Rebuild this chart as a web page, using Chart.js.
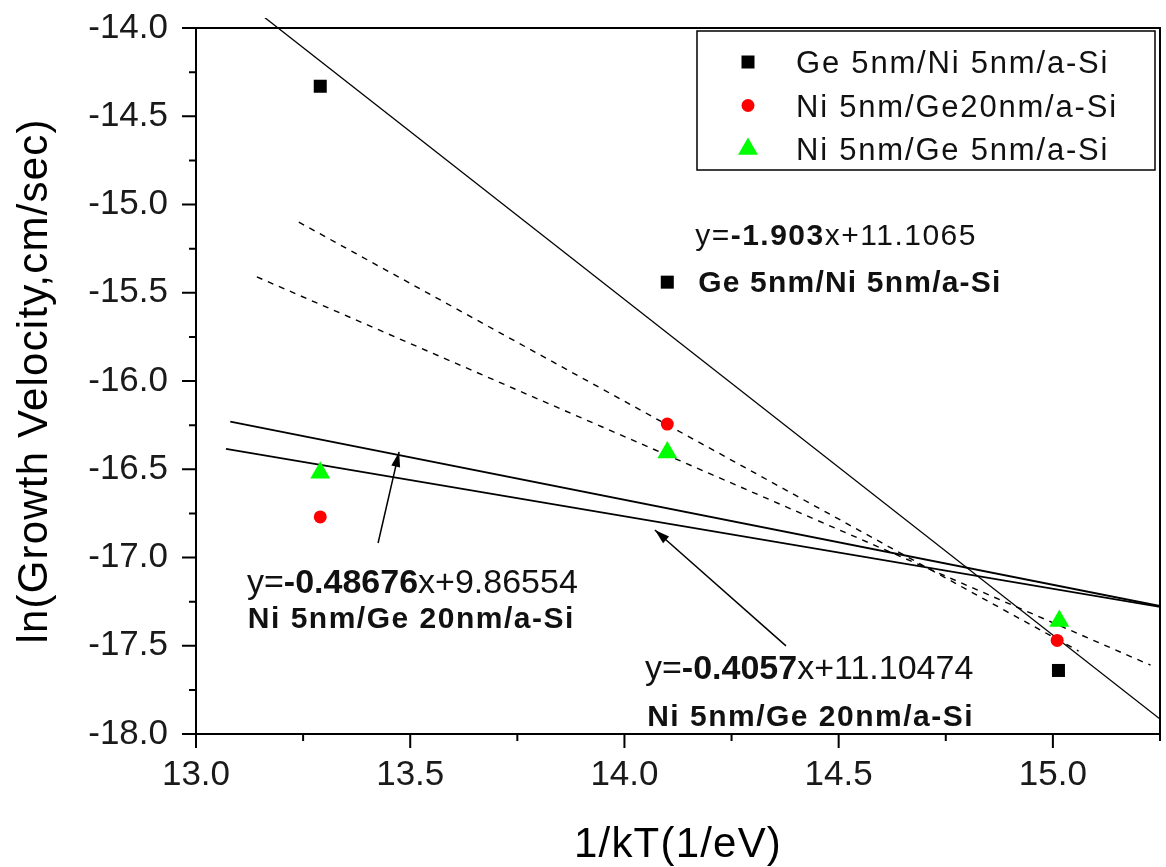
<!DOCTYPE html>
<html>
<head>
<meta charset="utf-8">
<script src="https://cdn.jsdelivr.net/npm/chart.js@4.4.0/dist/chart.umd.min.js"></script>
<style>
  html, body { margin: 0; padding: 0; background: #fff; }
  #wrap { width: 1166px; height: 867px; }
</style>
</head>
<body>
<div id="wrap"><canvas id="arrhenius" width="1166" height="867"></canvas></div>
<script>
// measured points
const seriesNames = ["Ge 5nm/Ni 5nm/a-Si", "Ni 5nm/Ge20nm/a-Si", "Ni 5nm/Ge 5nm/a-Si"];
const xGe = [13.29, 14.10, 15.013];
const yGe = [-14.33, -15.44, -17.64];
const xNi20 = [13.29, 14.10, 15.01];
const yNi20 = [-16.77, -16.244, -17.47];
const xNi5 = [13.29, 14.10, 15.015];
const yNi5 = [-16.52, -16.405, -17.36];

// fit lines (end points)
const fitGeX = [13.16, 15.25];
const fitGeY = [-13.94, -17.915];
const fitUpX = [13.08, 15.25];
const fitUpY = [-16.23, -17.275];
const fitLowX = [13.07, 15.25];
const fitLowY = [-16.385, -17.28];
const dashRedX = [13.24, 15.06];
const dashRedY = [-15.10, -17.53];
const dashGreenX = [13.142, 15.228];
const dashGreenY = [-15.41, -17.61];

// axes
const xTicks = [13.0, 13.5, 14.0, 14.5, 15.0];
const xMinor = [13.25, 13.75, 14.25, 14.75, 15.25];
const yTicks = [-18.0, -17.5, -17.0, -16.5, -16.0, -15.5, -15.0, -14.5, -14.0];
const yMinor = [-17.75, -17.25, -16.75, -16.25, -15.75, -15.25, -14.75, -14.25];

const FONT = '"Liberation Sans", Arial, sans-serif';

// equation labels, placed in data units
const notes = [
  { x: 14.165, y: -15.229, size: 30, spacing: 1.5, parts: [["y=", false], ["-1.903", true], ["x+11.1065", false]] },
  { x: 14.172, y: -15.496, size: 30, spacing: 1.2, parts: [["Ge 5nm/Ni 5nm/a-Si", true]] },
  { x: 13.119, y: -17.201, size: 34, spacing: 0, parts: [["y=", false], ["-0.48676", true], ["x+9.86554", false]] },
  { x: 13.121, y: -17.399, size: 30, spacing: 1.5, parts: [["Ni 5nm/Ge 20nm/a-Si", true]] },
  { x: 14.048, y: -17.688, size: 34, spacing: 0, parts: [["y=", false], ["-0.4057", true], ["x+11.10474", false]] },
  { x: 14.053, y: -17.955, size: 30, spacing: 1.5, parts: [["Ni 5nm/Ge 20nm/a-Si", true]] }
];
const arrows = [
  { from: [13.425, -16.918], to: [13.474, -16.402] },
  { from: [14.377, -17.501], to: [14.071, -16.844] }
];

function pts(xs, ys) {
  return xs.map((x, i) => ({ x: x, y: ys[i] }));
}

function drawRich(ctx, parts, x, y, size, spacing) {
  ctx.save();
  ctx.textBaseline = "alphabetic";
  ctx.textAlign = "left";
  ctx.fillStyle = "#111";
  ctx.letterSpacing = spacing + "px";
  let cx = x;
  parts.forEach(([txt, bold]) => {
    ctx.font = (bold ? "bold " : "") + size + "px " + FONT;
    ctx.fillText(txt, cx, y);
    cx += ctx.measureText(txt).width;
  });
  ctx.restore();
}

// no extra label padding, the plot box is fixed
function noPad(scale) {
  scale.paddingTop = 0;
  scale.paddingBottom = 0;
  scale.paddingLeft = 0;
  scale.paddingRight = 0;
}

const decorPlugin = {
  id: "decor",
  afterDraw(chart) {
    const ctx = chart.ctx;
    const area = chart.chartArea;
    const xs = chart.scales.x;
    const ys = chart.scales.y;

    // frame
    ctx.save();
    ctx.strokeStyle = "#000";
    ctx.lineWidth = 2;
    ctx.strokeRect(area.left, area.top, area.right - area.left, area.bottom - area.top);

    // tick marks, outside
    ctx.beginPath();
    xTicks.forEach(v => { const p = xs.getPixelForValue(v); ctx.moveTo(p, area.bottom); ctx.lineTo(p, area.bottom + 14); });
    xMinor.forEach(v => { const p = xs.getPixelForValue(v); ctx.moveTo(p, area.bottom); ctx.lineTo(p, area.bottom + 7); });
    yTicks.forEach(v => { const p = ys.getPixelForValue(v); ctx.moveTo(area.left, p); ctx.lineTo(area.left - 14, p); });
    yMinor.forEach(v => { const p = ys.getPixelForValue(v); ctx.moveTo(area.left, p); ctx.lineTo(area.left - 7, p); });
    ctx.stroke();
    ctx.restore();

    // equations
    notes.forEach(n => {
      drawRich(ctx, n.parts, xs.getPixelForValue(n.x), ys.getPixelForValue(n.y), n.size, n.spacing);
    });

    // arrows
    ctx.save();
    ctx.strokeStyle = "#000";
    ctx.fillStyle = "#000";
    ctx.lineWidth = 1.5;
    arrows.forEach(a => {
      const x0 = xs.getPixelForValue(a.from[0]), y0 = ys.getPixelForValue(a.from[1]);
      const x1 = xs.getPixelForValue(a.to[0]), y1 = ys.getPixelForValue(a.to[1]);
      const ang = Math.atan2(y1 - y0, x1 - x0);
      ctx.beginPath();
      ctx.moveTo(x0, y0);
      ctx.lineTo(x1, y1);
      ctx.stroke();
      ctx.beginPath();
      ctx.moveTo(x1, y1);
      ctx.lineTo(x1 - 15 * Math.cos(ang) + 4.5 * Math.sin(ang), y1 - 15 * Math.sin(ang) - 4.5 * Math.cos(ang));
      ctx.lineTo(x1 - 15 * Math.cos(ang) - 4.5 * Math.sin(ang), y1 - 15 * Math.sin(ang) + 4.5 * Math.cos(ang));
      ctx.closePath();
      ctx.fill();
    });
    ctx.restore();

    // legend box in the top right corner
    const lx = area.right - 463, ly = area.top + 3;
    ctx.save();
    ctx.fillStyle = "#fff";
    ctx.fillRect(lx, ly, 458, 139);
    ctx.strokeStyle = "#000";
    ctx.lineWidth = 1.5;
    ctx.strokeRect(lx, ly, 458, 139);
    ctx.letterSpacing = "1.8px";
    ctx.font = "31px " + FONT;
    ctx.textBaseline = "alphabetic";
    ctx.textAlign = "left";
    [0, 1, 2].forEach(i => {
      const ds = chart.data.datasets[i];
      const base = ly + 42 + i * 43.5;
      ctx.fillStyle = ds.backgroundColor;
      Chart.helpers.drawPoint(ctx, { pointStyle: ds.pointStyle, radius: ds.pointRadius, rotation: 0, borderWidth: 0 }, lx + 51, base - 11);
      ctx.fillStyle = "#111";
      ctx.fillText(ds.label, lx + 99, base);
    });
    ctx.restore();

    // axis titles
    ctx.save();
    ctx.fillStyle = "#000";
    ctx.font = "42px " + FONT;
    ctx.letterSpacing = "1.2px";
    ctx.textAlign = "center";
    ctx.textBaseline = "alphabetic";
    ctx.fillText("1/kT(1/eV)", (area.left + area.right) / 2, 857);
    ctx.translate(47, (area.top + area.bottom) / 2);
    ctx.rotate(-Math.PI / 2);
    ctx.fillText("ln(Growth Velocity,cm/sec)", 0, 0);
    ctx.restore();
  }
};

const fitLine = (xs, ys, dash, width) => ({
  data: pts(xs, ys),
  showLine: true,
  pointRadius: 0,
  borderColor: "#000",
  borderWidth: width,
  borderDash: dash,
  backgroundColor: "#000",
  fill: false
});

const ctx = document.getElementById("arrhenius").getContext("2d");
new Chart(ctx, {
  type: "scatter",
  data: {
    datasets: [
      { label: seriesNames[0], data: pts(xGe, yGe), pointStyle: "rect", pointRadius: 9.2, backgroundColor: "#000", borderWidth: 0 },
      { label: seriesNames[1], data: pts(xNi20, yNi20), pointStyle: "circle", pointRadius: 6.5, backgroundColor: "#ff0000", borderWidth: 0 },
      { label: seriesNames[2], data: pts(xNi5, yNi5), pointStyle: "triangle", pointRadius: 11.5, backgroundColor: "#00ff00", borderWidth: 0 },
      Object.assign(fitLine(fitGeX, fitGeY, [], 1.3), { clip: { left: 0, top: 10, right: 0, bottom: 0 } }),
      fitLine(fitUpX, fitUpY, [], 1.8),
      fitLine(fitLowX, fitLowY, [], 1.8),
      fitLine(dashRedX, dashRedY, [6, 6], 1.4),
      fitLine(dashGreenX, dashGreenY, [6, 6], 1.4)
    ]
  },
  options: {
    responsive: false,
    animation: false,
    devicePixelRatio: 1,
    layout: { autoPadding: false, padding: { top: 28, right: 6, left: 0, bottom: 0 } },
    plugins: {
      legend: { display: false },
      tooltip: { enabled: false }
    },
    scales: {
      x: {
        type: "linear",
        min: 13.0,
        max: 15.25,
        grid: { display: false, drawTicks: false },
        border: { display: false },
        afterBuildTicks: (scale) => { scale.ticks = xTicks.map(v => ({ value: v })); },
        afterFit: (scale) => { scale.height = 133; noPad(scale); },
        ticks: {
          padding: 20,
          color: "#1a1a1a",
          font: { family: FONT, size: 35 },
          callback: (v) => Number(v).toFixed(1)
        }
      },
      y: {
        type: "linear",
        min: -18.0,
        max: -14.0,
        grid: { display: false, drawTicks: false },
        border: { display: false },
        afterBuildTicks: (scale) => { scale.ticks = yTicks.map(v => ({ value: v })); },
        afterFit: (scale) => { scale.width = 196; noPad(scale); },
        ticks: {
          padding: 28,
          color: "#1a1a1a",
          font: { family: FONT, size: 35 },
          callback: (v) => Number(v).toFixed(1)
        }
      }
    }
  },
  plugins: [decorPlugin]
});
</script>
</body>
</html>
